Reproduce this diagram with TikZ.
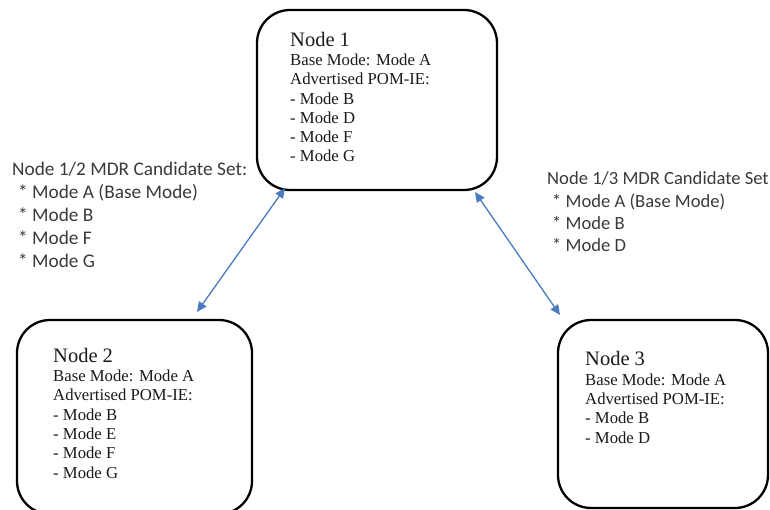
\documentclass[tikz,border=0pt]{standalone}
\usepackage{fontspec}
\setmainfont{Liberation Serif}
\newfontfamily\calibrifont{Carlito}
\usetikzlibrary{arrows.meta}
\definecolor{linkblue}{HTML}{4A7BC0}
\definecolor{labelgray}{HTML}{3A3A3A}
\definecolor{serifblack}{HTML}{1A1A1A}
\tikzset{
  modebox/.style={draw=black, line width=2.3pt, rounded corners=33pt, fill=white},
  boxtext/.style={anchor=base west, inner sep=0pt, align=left, text=serifblack,
    font=\fontsize{16.7}{19.3}\selectfont},
  settext/.style={anchor=base west, inner sep=0pt, align=left, text=labelgray,
    font=\calibrifont\fontsize{19.3}{23.1}\selectfont},
  settextsmall/.style={settext, font=\calibrifont\fontsize{18.6}{22.4}\selectfont},
  link/.style={draw=linkblue, line width=1.3pt,
    {Triangle[length=10pt,width=9pt]}-{Triangle[length=10pt,width=9pt]}}
}
\newcommand{\ttl}[1]{{\fontsize{20.5}{20}\selectfont #1}}
\begin{document}
\begin{tikzpicture}[x=1pt,y=-1pt]
\useasboundingbox (0,0) rectangle (770,510);
\begin{scope}
\clip (0,0) rectangle (770,510);
\node[modebox, minimum width=240pt, minimum height=180pt] (n1) at (377,100) {};
\node[modebox, minimum width=235pt, minimum height=194pt] (n2) at (134.5,417) {};
\node[modebox, minimum width=210pt, minimum height=188pt] (n3) at (663,414) {};
\end{scope}
% anchors at the baseline of the last line
\node[boxtext] (t1) at (290,162) {\ttl{Node 1}\\Base Mode: Mode A\\Advertised POM-IE:\\- Mode B\\- Mode D\\- Mode F\\- Mode G};
\node[boxtext] (t2) at (53,478) {\ttl{Node 2}\\Base Mode: Mode A\\Advertised POM-IE:\\- Mode B\\- Mode E\\- Mode F\\- Mode G};
\node[boxtext] (t3) at (585,443) {\ttl{Node 3}\\Base Mode: Mode A\\Advertised POM-IE:\\- Mode B\\- Mode D};
\node[settext] (s12) at (12,268) {Node 1/2 MDR Candidate Set:\\\hspace{6pt}* Mode A (Base Mode)\\\hspace{6pt}* Mode B\\\hspace{6pt}* Mode F\\\hspace{6pt}* Mode G};
\node[settextsmall] (s13) at (547,252) {Node 1/3 MDR Candidate Set\\\hspace{5pt}* Mode A (Base Mode)\\\hspace{5pt}* Mode B\\\hspace{5pt}* Mode D};
\coordinate (a1) at (285,188);
\coordinate (a2) at (197,312);
\coordinate (b1) at (475,192);
\coordinate (b2) at (560,315);
\draw[link] (a1) -- (a2);
\draw[link] (b1) -- (b2);
\end{tikzpicture}
\end{document}
